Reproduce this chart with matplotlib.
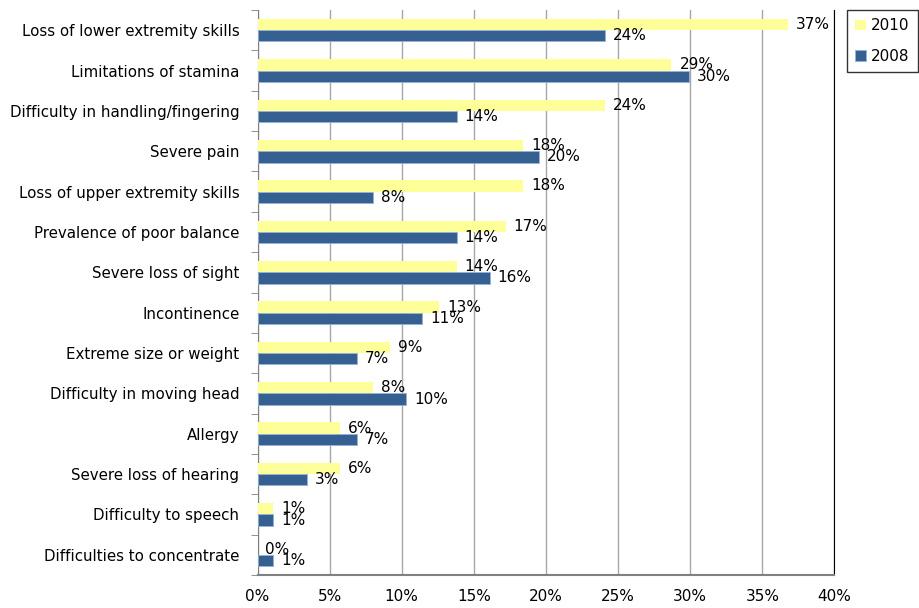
import numpy as np
import matplotlib.pyplot as plt
from matplotlib.ticker import FuncFormatter

# Datos (fracción de casos)
categorias = ["Loss of lower extremity skills", "Limitations of stamina",
              "Difficulty in handling/fingering", "Severe pain",
              "Loss of upper extremity skills", "Prevalence of poor balance",
              "Severe loss of sight", "Incontinence", "Extreme size or weight",
              "Difficulty in moving head", "Allergy", "Severe loss of hearing",
              "Difficulty to speech", "Difficulties to concentrate"]
v2010 = [0.368, 0.287, 0.241, 0.184, 0.184, 0.172, 0.138, 0.126, 0.092,
         0.080, 0.057, 0.057, 0.011, 0.0]
v2008 = [0.241, 0.299, 0.138, 0.195, 0.080, 0.138, 0.161, 0.114, 0.069,
         0.103, 0.069, 0.034, 0.011, 0.011]
xticks = [0, 0.05, 0.10, 0.15, 0.20, 0.25, 0.30, 0.35, 0.40]

col2010 = '#FFFF99'
col2008 = '#376092'

fig = plt.figure(figsize=(9.2, 6.08), dpi=100)
ax = fig.add_axes([257.5/920, 33/608, 577/920, 565/608])

n = len(categorias)
y = np.arange(n)
h = 0.28

b1 = ax.barh(y - h/2, v2010, height=h, color=col2010, label='2010', zorder=3)
b2 = ax.barh(y + h/2, v2008, height=h, color=col2008, edgecolor='#95B3D7',
             linewidth=0.6, label='2008', zorder=3)

for bars, vals in ((b1, v2010), (b2, v2008)):
    for rect, v in zip(bars, vals):
        ax.text(v + 0.0055, rect.get_y() + rect.get_height()/2, '{:.0%}'.format(v),
                va='center', ha='left', fontsize=11, color='black', zorder=4)

ax.set_xlim(0, 0.40)
ax.set_ylim(n - 0.5, -0.5)
ax.set_xticks(xticks)
ax.xaxis.set_major_formatter(FuncFormatter(lambda x, p: '{:.0%}'.format(x)))
ax.set_yticks(y)
ax.set_yticklabels(categorias, fontsize=10.8)
ax.set_yticks(np.arange(n + 1) - 0.5, minor=True)
ax.tick_params(axis='y', which='major', length=0, pad=13)
ax.tick_params(axis='y', which='minor', length=5, color='#808080')
ax.tick_params(axis='x', length=0, pad=10, labelsize=11)

ax.grid(axis='x', color='#A6A6A6', linewidth=1, zorder=0)
ax.spines['top'].set_visible(False)
ax.spines['right'].set_color('black')
ax.spines['left'].set_color('#808080')
ax.spines['bottom'].set_color('#808080')
ax.spines['bottom'].set_linewidth(1.5)

leg = ax.legend(loc='upper left', bbox_to_anchor=(847/920, 1 - 10/608),
                bbox_transform=fig.transFigure, frameon=True, fancybox=False,
                edgecolor='black', fontsize=11, handlelength=0.7,
                handleheight=0.7, handletextpad=0.3, borderpad=0.55,
                labelspacing=1.0, borderaxespad=0)
leg.get_frame().set_linewidth(1)

fig.savefig('out.png', dpi=100)
